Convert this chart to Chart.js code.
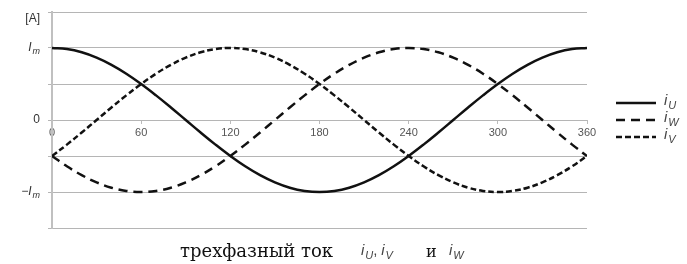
<!DOCTYPE html>
<html>
<head>
<meta charset="utf-8">
<script src="https://cdn.jsdelivr.net/npm/chart.js@4"></script>
<style>
  html, body { margin: 0; padding: 0; background: #fff; }
  #wrap { width: 687px; height: 264px; }
</style>
</head>
<body>
<div id="wrap"><canvas id="tok"></canvas></div>
<script>
// Winkel in Grad
const grad = [0, 10, 20, 30, 40, 50, 60, 70, 80, 90, 100, 110, 120, 130, 140, 150, 160, 170, 180,
              190, 200, 210, 220, 230, 240, 250, 260, 270, 280, 290, 300, 310, 320, 330, 340, 350, 360];

// Phasenstroeme (in Einheiten von Im)
const iU = [1, 0.985, 0.94, 0.866, 0.766, 0.643, 0.5, 0.342, 0.174, 0, -0.174, -0.342, -0.5, -0.643, -0.766, -0.866, -0.94, -0.985, -1,
            -0.985, -0.94, -0.866, -0.766, -0.643, -0.5, -0.342, -0.174, 0, 0.174, 0.342, 0.5, 0.643, 0.766, 0.866, 0.94, 0.985, 1];
const iW = [-0.5, -0.643, -0.766, -0.866, -0.94, -0.985, -1, -0.985, -0.94, -0.866, -0.766, -0.643, -0.5, -0.342, -0.174, 0, 0.174, 0.342, 0.5,
            0.643, 0.766, 0.866, 0.94, 0.985, 1, 0.985, 0.94, 0.866, 0.766, 0.643, 0.5, 0.342, 0.174, 0, -0.174, -0.342, -0.5];
const iV = [-0.5, -0.342, -0.174, 0, 0.174, 0.342, 0.5, 0.643, 0.766, 0.866, 0.94, 0.985, 1, 0.985, 0.94, 0.866, 0.766, 0.643, 0.5,
            0.342, 0.174, 0, -0.174, -0.342, -0.5, -0.643, -0.766, -0.866, -0.94, -0.985, -1, -0.985, -0.94, -0.866, -0.766, -0.643, -0.5];

const xTicks = [0, 60, 120, 180, 240, 300, 360];
const yWerte = [1.5, 1, 0, -1];
const yNamen = [["[A]", ""], ["I", "m"], ["0", ""], ["\u2212I", "m"]];
const legendeNamen = [["i", "U"], ["i", "W"], ["i", "V"]];

const sans = '"Liberation Sans", Arial, sans-serif';
const serif = '"DejaVu Serif", "Liberation Serif", serif';

function punkte(werte) {
    return grad.map((g, i) => ({ x: g, y: werte[i] }));
}

// Text mit Index (z.B. i_U) zeichnen, gibt Breite zurueck
function mitIndex(ctx, x, y, basis, index, size, italic, messen) {
    const st = italic ? "italic " : "";
    ctx.font = st + size + "px " + sans;
    const w1 = ctx.measureText(basis).width;
    ctx.font = st + Math.round(size * 0.72) + "px " + sans;
    const w2 = index ? ctx.measureText(index).width + 1 : 0;
    if (!messen) {
        ctx.font = st + size + "px " + sans;
        ctx.fillText(basis, x, y);
        if (index) {
            ctx.font = st + Math.round(size * 0.72) + "px " + sans;
            ctx.fillText(index, x + w1 + 1, y + size * 0.3);
        }
    }
    return w1 + w2;
}

const beschriftung = {
    id: "beschriftung",
    afterDraw(chart) {
        const ctx = chart.ctx;
        const ys = chart.scales.y;
        const left = chart.chartArea.left;
        ctx.save();
        ctx.textBaseline = "middle";
        ctx.textAlign = "left";
        ctx.fillStyle = "#333";

        // y-Beschriftung
        yWerte.forEach((v, i) => {
            const n = yNamen[i];
            const italic = n[1] !== "";
            let y = ys.getPixelForValue(v);
            if (v === 1.5) y += 7;
            const w = mitIndex(ctx, 0, 0, n[0], n[1], 12, italic, true);
            mitIndex(ctx, left - 12 - w, y, n[0], n[1], 12, italic, false);
        });

        // Legende
        const ds = chart.data.datasets;
        const zeilen = [103, 120, 137];
        ds.forEach((d, i) => {
            ctx.beginPath();
            ctx.lineWidth = 2.5;
            ctx.strokeStyle = d.borderColor;
            ctx.setLineDash(d.borderDash || []);
            ctx.moveTo(616, zeilen[i]);
            ctx.lineTo(656, zeilen[i]);
            ctx.stroke();
            ctx.setLineDash([]);
            ctx.fillStyle = "#444";
            mitIndex(ctx, 664, zeilen[i] - 2, legendeNamen[i][0], legendeNamen[i][1], 15, true, false);
        });

        // Unterschrift
        const by = 252;
        ctx.fillStyle = "#111";
        ctx.font = "18px " + serif;
        ctx.fillText("трехфазный ток", 180, by);
        ctx.fillStyle = "#444";
        let x = 361;
        x += mitIndex(ctx, x, by - 1, "i", "U", 15, true, false);
        ctx.font = "15px " + sans;
        ctx.fillText(",", x, by - 1);
        x += 8;
        mitIndex(ctx, x, by - 1, "i", "V", 15, true, false);
        ctx.fillStyle = "#111";
        ctx.font = "16px " + serif;
        ctx.fillText("и", 426, by + 1);
        ctx.fillStyle = "#444";
        mitIndex(ctx, 449, by - 1, "i", "W", 15, true, false);
        ctx.restore();
    }
};

new Chart(document.getElementById("tok"), {
    type: "line",
    data: {
        datasets: [
            { label: "iU", data: punkte(iU), borderColor: "#111", borderWidth: 2.5, borderDash: [] },
            { label: "iW", data: punkte(iW), borderColor: "#111", borderWidth: 2.5, borderDash: [9, 6] },
            { label: "iV", data: punkte(iV), borderColor: "#111", borderWidth: 2.5, borderDash: [6, 3] },
        ],
    },
    options: {
        responsive: true,
        maintainAspectRatio: false,
        animation: false,
        layout: { padding: { left: 0, right: 100, top: 12, bottom: 36 } },
        elements: { point: { radius: 0 }, line: { tension: 0.4, fill: false } },
        plugins: { legend: { display: false }, tooltip: { enabled: false } },
        scales: {
            x: {
                type: "linear",
                position: { y: 0 },
                min: 0,
                max: 360,
                afterBuildTicks: (s) => { s.ticks = xTicks.map((v) => ({ value: v })); },
                ticks: { font: { size: 11, family: sans }, color: "#555", padding: 2, maxRotation: 0 },
                grid: { drawOnChartArea: false, tickLength: 4, color: "#bbb" },
                border: { display: false },
            },
            y: {
                min: -1.5,
                max: 1.5,
                ticks: { stepSize: 0.5, display: false },
                grid: { color: "#b5b5b5", lineWidth: 1, tickLength: 4 },
                border: { color: "#c0c0c0", width: 2 },
                afterFit: (s) => { s.width = 52; },
            },
        },
    },
    plugins: [beschriftung],
});
</script>
</body>
</html>
